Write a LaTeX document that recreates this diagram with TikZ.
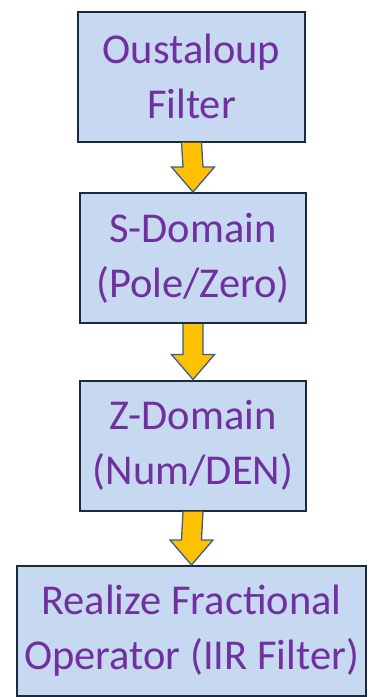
\documentclass[tikz,border=0pt]{standalone}
\usepackage{fontspec}
\setmainfont{Carlito}
\usepackage{xcolor}
\usetikzlibrary{calc}
\definecolor{boxfill}{HTML}{C6D9F1}
\definecolor{boxline}{HTML}{1C2A40}
\definecolor{txtpurple}{HTML}{7030A0}
\definecolor{arrfill}{HTML}{FFC000}
\definecolor{arrline}{HTML}{3A5F8E}

\newcommand{\fatarrow}[2]{%
  \filldraw[flowarrow] ($(#1.south)+(-10,0)$) -- ($(#2.north)+(-10,-25)$)
    -- ($(#2.north)+(-21.5,-25)$) -- (#2.north) -- ($(#2.north)+(21.5,-25)$)
    -- ($(#2.north)+(10,-25)$) -- ($(#1.south)+(10,0)$);}

\begin{document}
\begin{tikzpicture}[x=1pt,y=-1pt,
    stage/.style={draw=boxline,line width=2pt,fill=boxfill,text=txtpurple,
      align=center,inner sep=0pt,minimum height=130pt,
      font=\fontsize{42.5}{55}\selectfont},
    flowarrow/.style={fill=arrfill,draw=arrline,line width=1.3pt,line join=miter}]
      \useasboundingbox (0,0) rectangle (368,697);
      \node[stage,minimum width=227pt] (oust) at (191.5,76.5) {Oustaloup\\Filter};
      \node[stage,minimum width=226pt] (sdom) at (193,258) {S-Domain\\(Pole/Zero)};
      \node[stage,minimum width=226pt] (zdom) at (193,445.5) {Z-Domain\\(Num/DEN)};
      \node[stage,minimum width=349pt] (iir) at (191.5,631) {Realize Fractional\\Operator (IIR Filter)};
      \fatarrow{oust}{sdom}
      \fatarrow{sdom}{zdom}
      \fatarrow{zdom}{iir}
    \end{tikzpicture}
\end{document}
